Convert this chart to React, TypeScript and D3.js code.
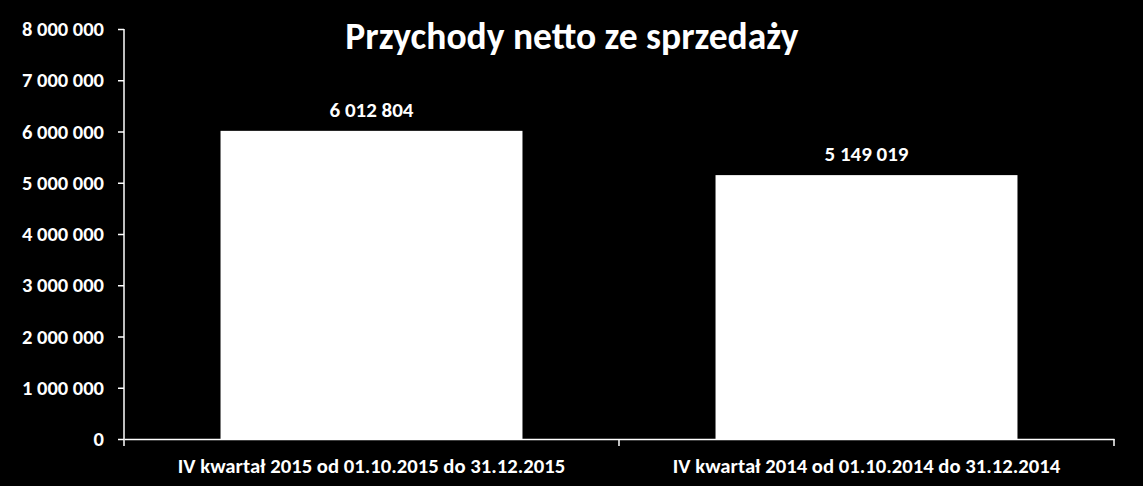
import React, { useRef, useEffect } from "react";
import * as d3 from "d3";

const categories = [
    "IV kwartał 2015 od 01.10.2015 do 31.12.2015",
    "IV kwartał 2014 od 01.10.2014 do 31.12.2014",
];
const revenue = [6012804, 5149019];
const yTicks = [0, 1000000, 2000000, 3000000, 4000000, 5000000, 6000000, 7000000, 8000000];
const title = "Przychody netto ze sprzedaży";

const fmt = (v: number) => d3.format(",")(v).replace(/,/g, " ");

const FONT = "Carlito, Calibri, Lato, sans-serif";

const App: React.FC = () => {
    const ref = useRef<SVGSVGElement | null>(null);

    useEffect(() => {
        if (!ref.current) return;
        const svg = d3.select(ref.current);
        svg.selectAll("*").remove();

        const width = 1143;
        const height = 486;
        const margin = { top: 29, right: 29, bottom: 47, left: 124 };

        svg.append("rect").attr("width", width).attr("height", height).attr("fill", "#000");

        const x = d3
            .scaleBand()
            .domain(categories)
            .range([margin.left, width - margin.right])
            .paddingInner(0.39)
            .paddingOuter(0.195);

        const y = d3
            .scaleLinear()
            .domain([0, 8000000])
            .range([height - margin.bottom, margin.top]);

        // bars
        svg
            .append("g")
            .selectAll("rect")
            .data(revenue)
            .enter()
            .append("rect")
            .attr("x", (_, i) => x(categories[i])!)
            .attr("y", d => y(d))
            .attr("width", x.bandwidth())
            .attr("height", d => y(0) - y(d))
            .attr("fill", "#fff");

        // value labels
        svg
            .append("g")
            .selectAll("text")
            .data(revenue)
            .enter()
            .append("text")
            .attr("x", (_, i) => x(categories[i])! + x.bandwidth() / 2)
            .attr("y", d => y(d) - 14)
            .attr("text-anchor", "middle")
            .attr("fill", "#fff")
            .attr("font-family", FONT)
            .attr("font-weight", "bold")
            .attr("font-size", 21)
            .text(d => fmt(d));

        // y axis
        const yAxis = svg
            .append("g")
            .attr("transform", `translate(${margin.left},0)`)
            .call(
                d3
                    .axisLeft(y)
                    .tickValues(yTicks)
                    .tickSize(6)
                    .tickPadding(14)
                    .tickFormat(d => fmt(d as number))
            );
        yAxis.select(".domain").attr("stroke", "#fff").attr("stroke-width", 1.5).attr("d", `M0,${y(0)}V${y(8000000)}`);
        yAxis.selectAll(".tick line").attr("stroke", "#fff").attr("stroke-width", 1.5);
        yAxis
            .selectAll(".tick text")
            .attr("fill", "#fff")
            .attr("font-family", FONT)
            .attr("font-weight", "bold")
            .attr("font-size", 20.5);

        // x axis
        const xAxis = svg
            .append("g")
            .attr("transform", `translate(0,${y(0)})`)
            .call(d3.axisBottom(x).tickSize(0).tickPadding(19));
        xAxis.select(".domain").attr("stroke", "#fff").attr("stroke-width", 1.5);
        xAxis
            .selectAll(".tick text")
            .attr("fill", "#fff")
            .attr("font-family", FONT)
            .attr("font-weight", "bold")
            .attr("font-size", 20.7);

        // category boundary ticks
        const bounds = d3.range(categories.length + 1).map(i => margin.left + i * x.step());
        xAxis
            .append("g")
            .selectAll("line")
            .data(bounds)
            .enter()
            .append("line")
            .attr("x1", d => d)
            .attr("x2", d => d)
            .attr("y1", 0)
            .attr("y2", 7)
            .attr("stroke", "#fff")
            .attr("stroke-width", 1.5);

        // title
        svg
            .append("text")
            .attr("x", 572)
            .attr("y", 49)
            .attr("text-anchor", "middle")
            .attr("fill", "#fff")
            .attr("font-family", FONT)
            .attr("font-weight", "bold")
            .attr("font-size", 37.5)
            .text(title);
    }, []);

    return (
        <svg
            ref={ref}
            width={1143}
            height={486}
            style={{ position: "absolute", left: 0, top: 0, display: "block" }}
        />
    );
};

export default App;
